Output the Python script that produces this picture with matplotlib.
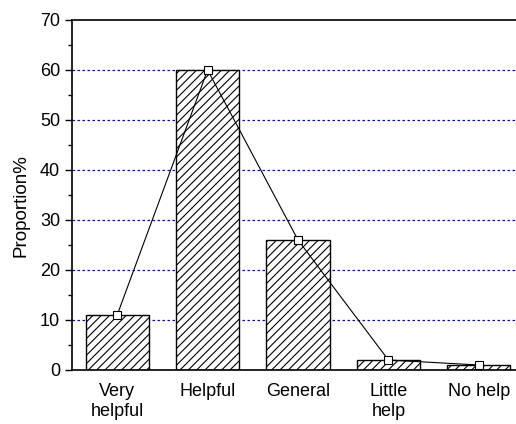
import matplotlib
matplotlib.use("Agg")
import matplotlib.pyplot as plt
from matplotlib.ticker import MultipleLocator

categories = ["Very\nhelpful", "Helpful", "General", "Little\nhelp", "No help"]
values = [11, 60, 26, 2, 1]

plt.rcParams['font.family'] = ['Liberation Sans', 'DejaVu Sans']
plt.rcParams['hatch.linewidth'] = 0.8

fig = plt.figure(figsize=(5.16, 4.24), dpi=100)
ax = fig.add_axes([72/516, 54/424, 452/516, 350/424])
x = list(range(len(categories)))
ax.bar(x, values, width=0.7, color='white', edgecolor='black', hatch='////', linewidth=1.0, zorder=2)
ax.plot(x, values, color='black', linewidth=0.8, marker='s', markersize=6,
        markerfacecolor='white', markeredgecolor='black', markeredgewidth=0.8, zorder=3)

for yv in range(10, 70, 10):
    ax.axhline(yv, color='blue', linestyle=(0, (2, 2)), linewidth=0.9, zorder=1)

ax.set_xlim(-0.5, 4.5)
ax.set_ylim(0, 70)
ax.yaxis.set_major_locator(MultipleLocator(10))
ax.yaxis.set_minor_locator(MultipleLocator(5))
ax.set_xticks(x)
ax.set_xticklabels(categories, fontsize=13, linespacing=1.3)
ax.tick_params(axis='x', length=0, pad=9)
ax.tick_params(axis='y', which='major', direction='out', length=5, labelsize=13, width=1)
ax.tick_params(axis='y', which='minor', direction='out', length=3, width=1)
for s in ['left', 'bottom', 'top', 'right']:
    ax.spines[s].set_linewidth(1.2)
ax.set_ylabel("Proportion%", fontsize=13.5)
ax.yaxis.set_label_coords(-0.095, 0.47)

fig.savefig("out.png", dpi=100)
